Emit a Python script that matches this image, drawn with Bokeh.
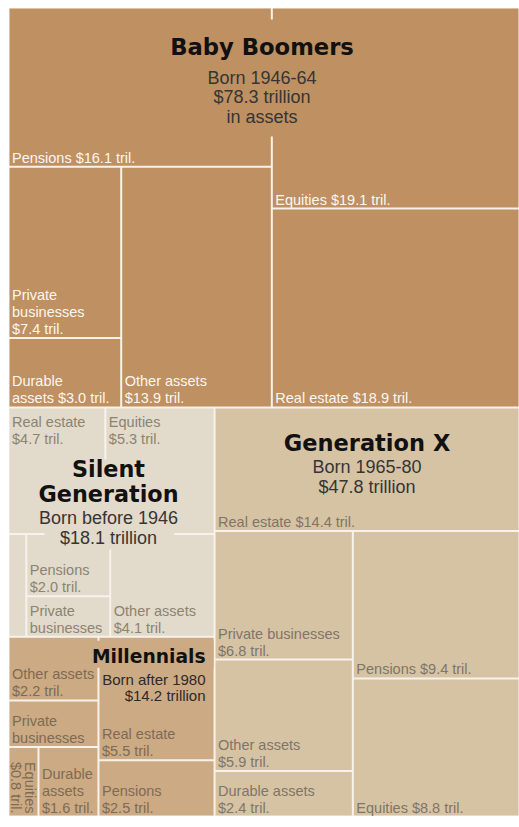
import math
from bokeh.plotting import figure
from bokeh.models import Range1d, ColumnDataSource
from bokeh.embed import file_html
from bokeh.resources import INLINE
from bokeh.core.properties import value

# ---------------- data ----------------
generations = ["Baby Boomers", "Generation X", "Silent\nGeneration", "Millennials"]
gen_subtitles = ["Born 1946-64\n$78.3 trillion\nin assets",
                 "Born 1965-80\n$47.8 trillion",
                 "Born before 1946\n$18.1 trillion",
                 "Born after 1980\n$14.2 trillion"]
gen_totals = [78.3, 47.8, 18.1, 14.2]

boomer_cats = ["Pensions", "Private businesses", "Durable assets", "Other assets", "Equities", "Real estate"]
boomer_vals = [16.1, 7.4, 3.0, 13.9, 19.1, 18.9]
boomer_labels = ["Pensions ${v} tril.", "Private\nbusinesses\n${v} tril.", "Durable\nassets ${v} tril.",
                 "Other assets\n${v} tril.", "Equities ${v} tril.", "Real estate ${v} tril."]

genx_cats = ["Real estate", "Private businesses", "Other assets", "Durable assets", "Pensions", "Equities"]
genx_vals = [14.4, 6.8, 5.9, 2.4, 9.4, 8.8]
genx_labels = ["Real estate ${v} tril.", "Private businesses\n${v} tril.", "Other assets\n${v} tril.",
               "Durable assets\n${v} tril.", "Pensions ${v} tril.", "Equities ${v} tril."]

silent_cats = ["Real estate", "Equities", "Durable assets", "Pensions", "Private businesses", "Other assets"]
silent_vals = [4.7, 5.3, 0.7, 2.0, 1.3, 4.1]
silent_labels = ["Real estate\n${v} tril.", "Equities\n${v} tril.", "", "Pensions\n${v} tril.",
                 "Private\nbusinesses", "Other assets\n${v} tril."]

millennial_cats = ["Other assets", "Private businesses", "Equities", "Durable assets", "Real estate", "Pensions"]
millennial_vals = [2.2, 1.6, 0.8, 1.6, 5.5, 2.5]
millennial_labels = ["Other assets\n${v} tril.", "Private\nbusinesses", "Equities\n${v} tril.",
                     "Durable\nassets\n${v} tril.", "Real estate\n${v} tril.", "Pensions\n${v} tril."]

# ---------------- styles / structure ----------------
gen_fill = ["#BF9061", "#D6C3A4", "#E2DACA", "#CCAA83"]
gen_label_color = ["#FBF7F0", "#7F7568", "#8C8373", "#7E6A55"]
GAP_COLOR = "#F7F3EC"

top_tree = ("v", [0, ("h", [("v", [2, 3]), 1])])
gen_trees = [
    ("h", [("v", [0, ("h", [("v", [1, 2]), 3])]), ("v", [4, 5])]),
    ("v", [0, ("h", [("v", [1, 2, 3]), ("v", [4, 5])])]),
    ("v", [("h", [0, 1]), ("h", [2, ("v", [3, 4]), 5])]),
    ("h", [("v", [0, 1, ("h", [2, 3])]), ("v", [4, 5])]),
]
gen_vals = [boomer_vals, genx_vals, silent_vals, millennial_vals]
gen_labels = [boomer_labels, genx_labels, silent_labels, millennial_labels]
# label placement mode per category: b = bottom-left, t = top-left, r = rotated
gen_modes = [["b"] * 6, ["b"] * 6, ["t", "t", "b", "b", "b", "b"], ["b", "b", "r", "b", "b", "b"]]


def weight(node, vals):
    if isinstance(node, int):
        return vals[node]
    return sum(weight(k, vals) for k in node[1])


def layout(node, vals, x0, y0, x1, y1, out):
    if isinstance(node, int):
        out[node] = (x0, y0, x1, y1)
        return
    orient, kids = node
    ws = [weight(k, vals) for k in kids]
    tot = sum(ws)
    pos = x0 if orient == "h" else y0
    for k, w in zip(kids, ws):
        if orient == "h":
            nxt = pos + (x1 - x0) * w / tot
            layout(k, vals, pos, y0, nxt, y1, out)
        else:
            nxt = pos + (y1 - y0) * w / tot
            layout(k, vals, x0, pos, x1, nxt, out)
        pos = nxt


W, H = 519, 820
p = figure(width=W, height=H, x_range=Range1d(0, W), y_range=Range1d(H, 0),
           output_backend="svg", toolbar_location=None, min_border=0,
           x_axis_location=None, y_axis_location=None)
p.grid.visible = False
p.outline_line_color = None
p.background_fill_color = "white"
p.border_fill_color = "white"

gen_rects = {}
OX0, OY0, OX1, OY1 = 8, 7, 519, 816
layout(top_tree, gen_totals, OX0, OY0, OX1, OY1, gen_rects)

# gap colour behind the whole treemap
p.quad(left=[OX0 + 0.5], right=[OX1 - 0.5], top=[OY0 + 0.5], bottom=[OY1 - 0.5],
       fill_color=GAP_COLOR, line_color=None)

G = 1.0
rect_src = dict(l=[], r=[], t=[], b=[], c=[])
lab = dict(x=[], y=[], text=[], color=[], angle=[], align=[])
for gi in range(4):
    cells = {}
    gx0, gy0, gx1, gy1 = gen_rects[gi]
    layout(gen_trees[gi], gen_vals[gi], gx0, gy0, gx1, gy1, cells)
    for ci in range(len(gen_vals[gi])):
        x0, y0, x1, y1 = cells[ci]
        rect_src["l"].append(x0 + G); rect_src["r"].append(x1 - G)
        rect_src["t"].append(y0 + G); rect_src["b"].append(y1 - G)
        rect_src["c"].append(gen_fill[gi])
        tmpl = gen_labels[gi][ci]
        if not tmpl:
            continue
        txt = tmpl.replace("{v}", f"{gen_vals[gi][ci]:.1f}")
        lines = txt.split("\n")
        n = len(lines)
        mode = gen_modes[gi][ci]
        for i, ln in enumerate(lines):
            if mode == "r":
                lab["x"].append(x0 + 21 - 14 * i); lab["y"].append(y1 - 3)
                lab["angle"].append(-math.pi / 2); lab["align"].append("right")
            else:
                if mode == "t":
                    y = y0 + 15 + 17 * i
                else:
                    y = y1 - 9 - 17 * (n - 1 - i)
                lab["x"].append(x0 + 3.5); lab["y"].append(y)
                lab["angle"].append(0.0); lab["align"].append("left")
            lab["text"].append(ln); lab["color"].append(gen_label_color[gi])

p.quad(left="l", right="r", top="t", bottom="b", fill_color="c", line_color=None,
       source=ColumnDataSource(rect_src))

# boxes behind the generation titles (hide the dividing lines there)
bx0, by0, bx1, by1 = gen_rects[0]
sx0, sy0, sx1, sy1 = gen_rects[2]
mx0, my0, mx1, my1 = gen_rects[3]
box = dict(
    l=[(bx0 + bx1) / 2 - 110, sx0 + 36, mx1 - 122],
    r=[(bx0 + bx1) / 2 + 110, sx0 + 166, mx1 - 1],
    t=[by0 + 12, sy0 + 52, my0 + 4],
    b=[by0 + 129, sy0 + 142, my0 + 31],
    c=[gen_fill[0], gen_fill[2], gen_fill[3]],
)
p.quad(left="l", right="r", top="t", bottom="b", fill_color="c", line_color=None,
       source=ColumnDataSource(box))

p.text(x="x", y="y", text="text", angle="angle", text_align="align", text_color="color",
       text_baseline="middle", text_font=value("Liberation Sans"), text_font_size="14.5px",
       source=ColumnDataSource(lab))

# generation titles and subtitles
title = dict(x=[], y=[], text=[], size=[], align=[])
sub = dict(x=[], y=[], text=[], size=[], align=[], color=[])
for gi in range(4):
    x0, y0, x1, y1 = gen_rects[gi]
    cx = (x0 + x1) / 2
    if gi == 0:
        tx, ty, tsz, al, tstep, sy, ssz, sstep = cx - 2, y0 + 39, "22.7px", "center", 0, y0 + 70, "18px", 19.5
    elif gi == 1:
        tx, ty, tsz, al, tstep, sy, ssz, sstep = cx, y0 + 36, "22.5px", "center", 0, y0 + 60, "18px", 19.5
    elif gi == 2:
        tx, ty, tsz, al, tstep, sy, ssz, sstep = cx - 3, y0 + 62, "22.3px", "center", 25, y0 + 111, "18px", 19.5
    else:
        tx, ty, tsz, al, tstep, sy, ssz, sstep = x1 - 9, y0 + 20, "18.7px", "right", 0, y0 + 43, "15px", 16
    for i, ln in enumerate(generations[gi].split("\n")):
        title["x"].append(tx); title["y"].append(ty + tstep * i)
        title["text"].append(ln); title["size"].append(tsz); title["align"].append(al)
    for i, ln in enumerate(gen_subtitles[gi].split("\n")):
        sub["x"].append(tx); sub["y"].append(sy + sstep * i)
        sub["text"].append(ln); sub["size"].append(ssz); sub["align"].append(al)
        sub["color"].append("#2a2a2a" if gi == 3 else "#353535")

p.text(x="x", y="y", text="text", text_align="align", text_baseline="middle",
       text_font=value("DejaVu Sans"), text_font_style="bold", text_font_size="size",
       text_color="#111111", source=ColumnDataSource(title))
p.text(x="x", y="y", text="text", text_align="align", text_baseline="middle",
       text_font=value("Liberation Sans"), text_font_size="size", text_color="color",
       source=ColumnDataSource(sub))

open("out.html", "w").write(file_html(p, INLINE))
